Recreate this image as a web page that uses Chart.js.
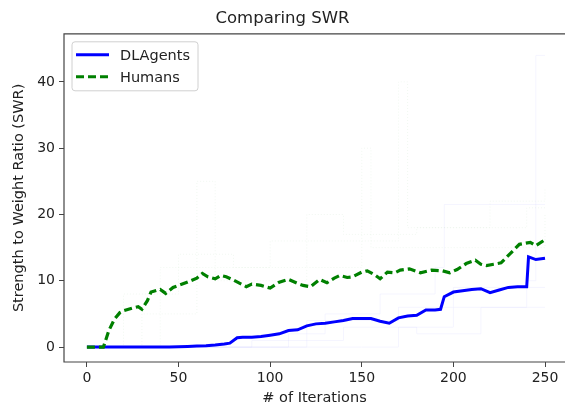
<!DOCTYPE html>
<html>
<head>
<meta charset="utf-8">
<script src="https://cdn.jsdelivr.net/npm/chart.js@4.4.1/dist/chart.umd.min.js"></script>
<style>
  html, body { margin: 0; padding: 0; background: #fff; }
  #wrap { width: 565px; height: 406px; }
</style>
</head>
<body>
<div id="wrap"><canvas id="swr-chart" width="565" height="406"></canvas></div>
<script>
// ---- data ----
const xTicks = [0, 50, 100, 150, 200, 250];
const yTicks = [0, 10, 20, 30, 40];

// mean curves
const humanIter = [0, 5, 9, 12, 15, 18, 20, 25, 28, 30, 33, 35, 40, 43, 47, 50, 55, 60, 63, 66, 70, 73, 76, 80, 85, 87, 90, 95, 100, 105, 110, 115, 118, 122, 127, 131, 135, 138, 142, 145, 150, 153, 157, 160, 164, 168, 171, 176, 182, 188, 194, 198, 202, 207, 212, 215, 218, 222, 226, 231, 236, 242, 245, 250];
const humanSwr  = [0, 0, 0, 2.5, 4.2, 5.2, 5.5, 5.9, 6.1, 5.7, 7.0, 8.3, 8.7, 8.1, 9.0, 9.3, 9.8, 10.4, 11.1, 10.6, 10.3, 10.8, 10.6, 10.1, 9.4, 9.1, 9.5, 9.3, 8.9, 9.8, 10.2, 9.6, 9.3, 9.1, 10.2, 9.7, 10.4, 10.8, 10.5, 10.6, 11.3, 11.5, 10.9, 10.3, 11.3, 11.2, 11.6, 11.8, 11.2, 11.6, 11.5, 11.2, 11.7, 12.6, 13.1, 12.5, 12.3, 12.5, 12.7, 14.1, 15.5, 15.8, 15.3, 16.2];

const agentIter = [0, 45, 50, 55, 60, 65, 70, 75, 78, 82, 85, 90, 95, 100, 105, 110, 115, 120, 125, 130, 135, 140, 145, 150, 155, 160, 165, 170, 175, 180, 185, 190, 193, 195, 200, 205, 210, 215, 220, 225, 230, 235, 240, 241, 245, 250];
const agentSwr  = [0, 0, 0.05, 0.1, 0.15, 0.2, 0.3, 0.45, 0.6, 1.4, 1.5, 1.5, 1.6, 1.8, 2.0, 2.5, 2.6, 3.2, 3.5, 3.6, 3.8, 4.0, 4.3, 4.3, 4.3, 3.9, 3.6, 4.4, 4.7, 4.8, 5.6, 5.6, 5.7, 7.6, 8.3, 8.5, 8.7, 8.8, 8.2, 8.6, 9.0, 9.1, 9.1, 13.6, 13.2, 13.4];

// a few of the faint individual runs behind the means
const agentRunIter = [
  [0, 100, 110, 130, 160, 190, 195, 250],
  [0, 150, 170, 200, 240, 245, 250],
  [0, 80, 120, 170, 200, 250],
  [0, 60, 90, 140, 180, 215, 250]
];
const agentRunSwr = [
  [0, 0, 2, 5, 8, 12, 21.5, 21.5],
  [0, 0, 3, 6, 10, 44, 44],
  [0, 0, 4, 6, 9, 9],
  [0, 0, 1, 3, 2, 6, 6]
];
const humanRunIter = [
  [0, 10, 20, 50, 80, 120, 140, 180, 220, 250],
  [0, 15, 30, 60, 70, 120, 150, 155, 200, 250],
  [0, 10, 40, 100, 170, 175, 240, 250]
];
const humanRunSwr = [
  [0, 0, 8, 14, 12, 20, 17, 18, 22, 24],
  [0, 0, 5, 25, 10, 12, 30, 15, 15, 20],
  [0, 0, 12, 16, 40, 18, 21, 21]
];

function toPoints(xs, ys) {
  return xs.map((x, i) => ({ x, y: ys[i] }));
}

const BLUE = '#0000ff';
const GREEN = '#008000';
const TEXT = '#222222';

// faint runs go last in the list, so they are drawn underneath
const faintSets = [];
agentRunIter.forEach((xs, i) => {
  faintSets.push({
    label: 'agent run ' + (i + 1),
    data: toPoints(xs, agentRunSwr[i]),
    borderColor: 'rgba(0, 0, 255, 0.045)',
    borderWidth: 1,
    stepped: true,
    pointRadius: 0,
    fill: false
  });
});
humanRunIter.forEach((xs, i) => {
  faintSets.push({
    label: 'human run ' + (i + 1),
    data: toPoints(xs, humanRunSwr[i]),
    borderColor: 'rgba(0, 128, 0, 0.06)',
    borderWidth: 1,
    borderDash: [1, 2],
    stepped: true,
    pointRadius: 0,
    fill: false
  });
});

// legend drawn inside the axes, top-left, like matplotlib
const legendItems = [
  { text: 'DLAgents', color: BLUE, dash: [] },
  { text: 'Humans', color: GREEN, dash: [8, 4] }
];

const framePlugin = {
  id: 'frame',
  afterDatasetsDraw(chart) {
    const { ctx, chartArea: a } = chart;
    ctx.save();
    // left, bottom and top spines; the right one falls outside the crop
    ctx.strokeStyle = '#444';
    ctx.lineWidth = 1.2;
    ctx.beginPath();
    ctx.moveTo(a.right + 2, a.top);
    ctx.lineTo(a.left, a.top);
    ctx.lineTo(a.left, a.bottom);
    ctx.lineTo(a.right + 2, a.bottom);
    ctx.stroke();

    // legend box
    const bx = a.left + 8, by = a.top + 8, bw = 126, bh = 49;
    ctx.beginPath();
    ctx.roundRect(bx, by, bw, bh, 3);
    ctx.fillStyle = 'rgba(255,255,255,0.85)';
    ctx.fill();
    ctx.strokeStyle = '#d0d0d0';
    ctx.lineWidth = 1;
    ctx.stroke();

    ctx.font = '14.5px "DejaVu Sans"';
    ctx.textBaseline = 'middle';
    legendItems.forEach((it, i) => {
      const y = by + 13 + i * 22;
      ctx.beginPath();
      ctx.setLineDash(it.dash);
      ctx.strokeStyle = it.color;
      ctx.lineWidth = 3;
      ctx.moveTo(bx + 4, y);
      ctx.lineTo(bx + 37, y);
      ctx.stroke();
      ctx.setLineDash([]);
      ctx.fillStyle = TEXT;
      ctx.fillText(it.text, bx + 48, y + 1);
    });
    ctx.restore();
  }
};

const ctx = document.getElementById('swr-chart').getContext('2d');
new Chart(ctx, {
  type: 'line',
  data: {
    datasets: [
      {
        label: 'Humans',
        data: toPoints(humanIter, humanSwr),
        borderColor: GREEN,
        borderWidth: 3.2,
        borderDash: [8, 4],
        pointRadius: 0,
        fill: false
      },
      {
        label: 'DLAgents',
        data: toPoints(agentIter, agentSwr),
        borderColor: BLUE,
        borderWidth: 3,
        pointRadius: 0,
        fill: false
      },
      ...faintSets
    ]
  },
  options: {
    responsive: false,
    animation: false,
    layout: { padding: { right: 0, left: 0, bottom: 0 } },
    plugins: {
      legend: { display: false },
      tooltip: { enabled: false },
      title: {
        display: true,
        text: 'Comparing SWR',
        color: TEXT,
        font: { family: 'DejaVu Sans', size: 16.5, weight: 'normal' },
        padding: { top: 9, bottom: 5 }
      }
    },
    scales: {
      x: {
        type: 'linear',
        min: -12.5,
        max: 260.9,
        afterBuildTicks: (scale) => { scale.ticks = xTicks.map(v => ({ value: v })); },
        afterFit: (scale) => { scale.height = 44; },
        grid: { display: true, drawOnChartArea: false, drawTicks: true, tickLength: 5, tickColor: '#444' },
        border: { display: false },
        ticks: { color: TEXT, padding: 3, maxRotation: 0, font: { family: 'DejaVu Sans', size: 14 } },
        title: {
          display: true,
          text: '# of Iterations',
          color: TEXT,
          font: { family: 'DejaVu Sans', size: 14.5 },
          padding: { top: 0, bottom: -1 }
        }
      },
      y: {
        type: 'linear',
        min: -2.25,
        max: 47.25,
        afterBuildTicks: (scale) => { scale.ticks = yTicks.map(v => ({ value: v })); },
        afterFit: (scale) => { scale.width = 64; },
        grid: { display: true, drawOnChartArea: false, drawTicks: true, tickLength: 5, tickColor: '#444' },
        border: { display: false },
        ticks: { color: TEXT, padding: 4, font: { family: 'DejaVu Sans', size: 14 } },
        title: {
          display: true,
          text: 'Strength to Weight Ratio (SWR)',
          color: TEXT,
          font: { family: 'DejaVu Sans', size: 14.5 },
          padding: { top: 11, bottom: 0 }
        }
      }
    }
  },
  plugins: [framePlugin]
});
</script>
</body>
</html>
